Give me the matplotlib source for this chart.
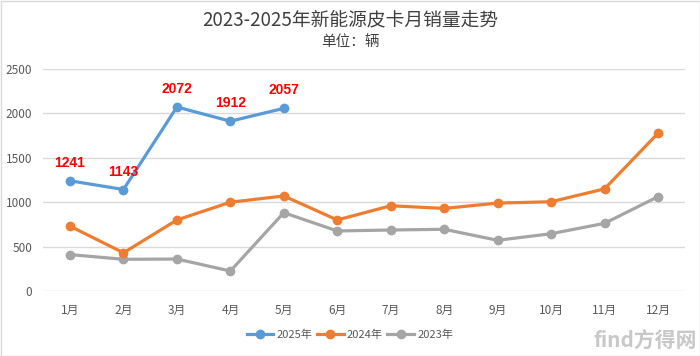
import matplotlib
matplotlib.use("Agg")
import matplotlib.pyplot as plt
from matplotlib.patches import Rectangle

plt.rcParams['font.family'] = ['Noto Sans CJK SC', 'DejaVu Sans']

months = ['1月', '2月', '3月', '4月', '5月', '6月', '7月', '8月', '9月', '10月', '11月', '12月']
sales_2025 = [1241, 1143, 2072, 1912, 2057]
sales_2024 = [730, 430, 800, 1000, 1070, 800, 960, 930, 990, 1005, 1150, 1776]
sales_2023 = [410, 357, 360, 225, 882, 676, 687, 695, 571, 645, 762, 1062]
yticks = [0, 500, 1000, 1500, 2000, 2500]

fig = plt.figure(figsize=(7.0, 3.56), dpi=100)
ax = fig.add_axes([43.3/700, 1-291/356, (684.7-43.3)/700, (291-69)/356])

x = list(range(len(months)))
ax.plot(x[:len(sales_2025)], sales_2025, color='#5B9BD5', lw=2.3, marker='o', ms=6, label='2025年', zorder=5)
ax.plot(x, sales_2024, color='#ED7D31', lw=2.3, marker='o', ms=6, label='2024年', zorder=4)
ax.plot(x, sales_2023, color='#A5A5A5', lw=2.3, marker='o', ms=6, label='2023年', zorder=3)

for xi, v in zip(x, sales_2025):
    ax.annotate(str(v), (xi, v), xytext=(0, 10), textcoords='offset points',
                ha='center', va='baseline', color='#FF0000', fontsize=10,
                fontweight='bold', family=['Liberation Sans'], zorder=6)

ax.set_xlim(-0.5, len(months) - 0.5)
ax.set_ylim(0, 2500)
ax.set_yticks(yticks)
ax.set_yticklabels([str(t) for t in yticks])
ax.set_xticks(x)
ax.set_xticklabels(months)
ax.tick_params(axis='both', length=0, colors='#595959', labelsize=8.5)
ax.tick_params(axis='x', pad=9)
ax.tick_params(axis='y', pad=8)
ax.grid(axis='y', color='#D9D9D9', lw=1)
ax.set_axisbelow(True)
for s in ax.spines.values():
    s.set_visible(False)

fig.text(0.5, 1-20/356, '2023-2025年新能源皮卡月销量走势', ha='center', va='center',
         fontsize=13.5, color='#404040')
fig.text(0.5, 1-42/356, '单位：辆', ha='center', va='center', fontsize=10.5, color='#404040')

leg = fig.legend(loc='center', bbox_to_anchor=(350/700, 1-335/356), ncol=3, frameon=False,
                 fontsize=8, handlelength=2.4, columnspacing=0.4, handletextpad=0.3)
for t in leg.get_texts():
    t.set_color('#595959')

fig.text(1-3/700, 1-341/356, 'find方得网', ha='right', va='center', fontsize=15,
         color='#C8C8C8', fontweight='bold')

fig.patches.append(Rectangle((0.5/700, 0.5/356), 1-1/700, 1-1/356, transform=fig.transFigure,
                             fill=False, edgecolor='#D9D9D9', lw=1))

fig.savefig('out.png', dpi=100)
